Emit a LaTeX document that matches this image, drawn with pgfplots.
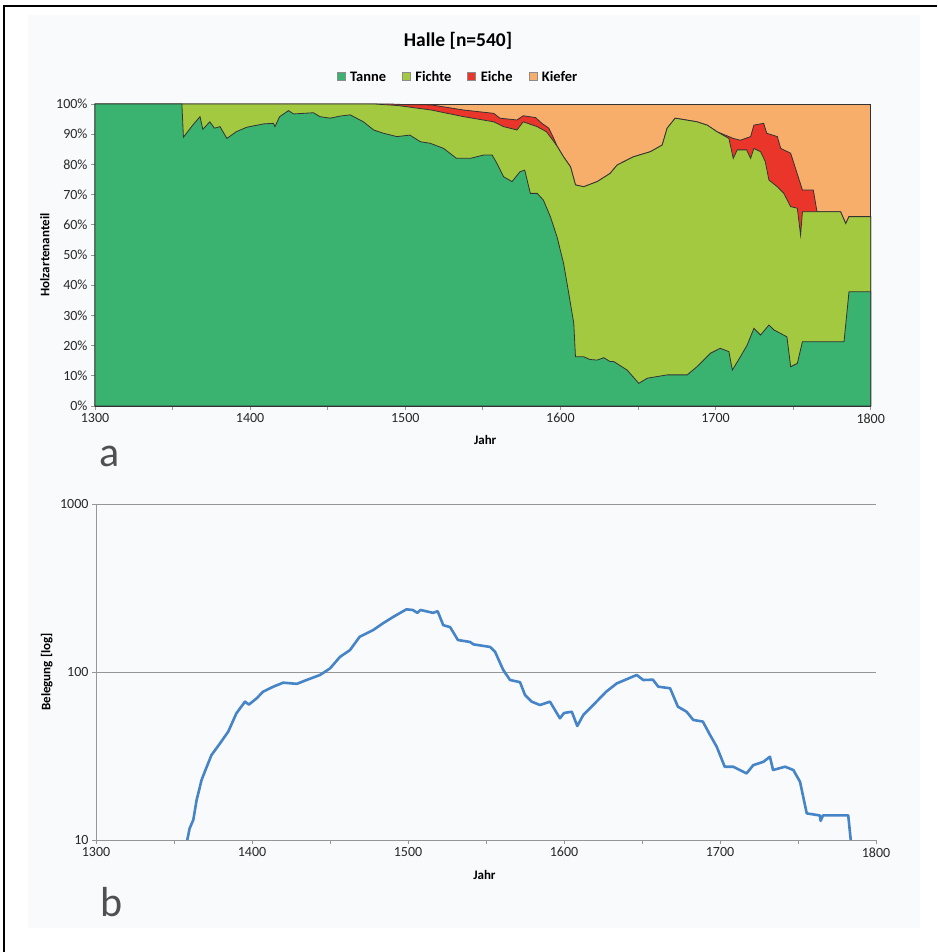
\documentclass[border=0pt]{standalone}
\usepackage{fontspec}
\setmainfont{Carlito}
\usepackage{pgfplots}
\pgfplotsset{compat=1.18}
\definecolor{tanne}{RGB}{58,178,112}
\definecolor{fichte}{RGB}{163,201,64}
\definecolor{eiche}{RGB}{234,54,42}
\definecolor{kiefer}{RGB}{247,174,107}
\definecolor{lineblue}{RGB}{70,132,200}
\definecolor{axgray}{RGB}{150,150,150}
\definecolor{bgc}{RGB}{249,250,252}
\definecolor{txt}{RGB}{40,40,40}

\pgfplotsset{
  common/.style={
    scale only axis,
    axis x line*=bottom, axis y line*=left,
    axis line style={axgray, line width=0.8pt},
    tick style={axgray, line width=0.8pt},
    tick align=outside,
    major tick length=4pt, minor tick length=4pt,
    xmin=1300, xmax=1800,
    xtick={1300,1400,1500,1600,1700,1800},
    xticklabels={1300,1400,1500,1600,1700,1800},
    minor xtick={1350,1450,1550,1650,1750},
    tick label style={font=\fontsize{14}{16}\selectfont, text=txt},
    label style={font=\bfseries\fontsize{13}{15}\selectfont, text=black},
    clip=false,
  }
}

\begin{document}
\begin{tikzpicture}
\path[use as bounding box] (0pt,0pt) rectangle (937pt,952pt);
\fill[bgc] (28pt,24pt) rectangle (920pt,937pt);
\draw[line width=2pt] (3.7pt,0pt) -- (3.7pt,946.3pt) -- (937pt,946.3pt);

% ---------------- panel a ----------------
\begin{axis}[common,
  at={(95pt,546pt)}, anchor=south west,
  width=775.7pt, height=302pt,
  ymin=0, ymax=100,
  ytick={0,10,...,100},
  yticklabels={0\%,10\%,20\%,30\%,40\%,50\%,60\%,70\%,80\%,90\%,100\%},
  xlabel={Jahr},
  xlabel style={at={(axis description cs:0.503,-0.126)}, anchor=base},
  ylabel={Holzartenanteil},
  ylabel style={at={(axis description cs:-0.0645,0.5)}, anchor=center, rotate=0},
  title={Halle [n=540]},
  title style={at={(axis description cs:0.468,1.169)}, anchor=base, font=\bfseries\fontsize{19.5}{22}\selectfont},
  legend style={at={(axis description cs:0.468,1.088)}, anchor=center, draw=none, fill=none,
    legend columns=4, font=\bfseries\fontsize{14.5}{16}\selectfont,
    /tikz/every even column/.append style={column sep=14pt}},
  legend image code/.code={\draw[#1, draw=black!45, line width=0.6pt] (0pt,-3pt) rectangle (8pt,5pt);\path[draw=none, fill=none] (0pt,0pt) rectangle (11pt,0.1pt);},
]
\addlegendimage{fill=tanne}
\addlegendimage{fill=fichte}
\addlegendimage{fill=eiche}
\addlegendimage{fill=kiefer}
\legend{Tanne,Fichte,Eiche,Kiefer}

% Kiefer (rest up to 100 %)
\addplot[forget plot, fill=kiefer, draw=black!80, line width=0.8pt] coordinates {
(1300,100) (1800,100)
} \closedcycle;

% Eiche: cumulative top (Tanne+Fichte+Eiche)
\addplot[forget plot, fill=eiche, draw=black!80, line width=0.8pt] coordinates {
(1300,100) (1470,100) (1490,100) (1500,99.8) (1516.8,99.7) (1537.6,98) (1557,96.9)
(1561,95.3) (1572,94.7) (1576,96.1) (1584,95.5) (1588,93.6) (1592.5,92) (1595.7,88.6)
(1598,85.9) (1602,82.5) (1606.5,79.2) (1609.7,73.2) (1615,72.6) (1623.7,74.3) (1632,77)
(1636.6,79.8) (1647,82.5) (1658,84.2) (1665.6,86.4) (1668.8,92) (1674,95.3) (1688,94.1)
(1694.6,93) (1701,90.8) (1708.6,89.2) (1711.4,88.6) (1716,88) (1722.6,89.2) (1724.7,93)
(1731,93.6) (1733,90.3) (1739.8,89.2) (1742,85.3) (1748.4,83.7) (1756,71.5) (1763,71.5)
(1765.4,64.3) (1780.6,64.3) (1783.9,60.4) (1786,62.7) (1800,62.7)
} \closedcycle;

% Fichte: cumulative top (Tanne+Fichte)
\addplot[forget plot, fill=fichte, draw=black!80, line width=0.8pt] coordinates {
(1300,100) (1480,100) (1495,99.5) (1516.8,98) (1537.6,95.8) (1557,94.1) (1563.4,92.5)
(1572,91.4) (1576,94.1) (1585,92.5) (1591,90.8) (1595.7,87.6) (1598,85.9) (1602,82.5)
(1606.5,79.2) (1609.7,73.2) (1615,72.6) (1623.7,74.3) (1632,77) (1636.6,79.8) (1647,82.5)
(1658,84.2) (1665.6,86.4) (1668.8,92) (1674,95.3) (1688,94.1) (1694.6,93) (1701,90.8)
(1708.6,88.6) (1711.4,82) (1714,84.8) (1720,84.8) (1722.6,82) (1724.7,85.3) (1729,84.2)
(1732,81) (1734.4,74.8) (1739.8,72.6) (1744,70.4) (1748.4,66) (1752.7,65.5) (1754.8,56.6)
(1756,64.3) (1780.6,64.3) (1783.9,60.4) (1786,62.7) (1800,62.7)
} \closedcycle;

% Tanne
\addplot[forget plot, fill=tanne, draw=black!80, line width=0.8pt] coordinates {
(1300,100) (1356,100) (1357,89) (1363,93) (1367.7,95.8) (1369.5,91.6) (1374,94.1)
(1377,92) (1380.6,92.5) (1385,88.6) (1391,90.8) (1397.8,92.3) (1408.6,93.4) (1415,93.6)
(1416,92.5) (1419,95.8) (1424.7,97.8) (1428,96.7) (1440.8,97.1) (1445,95.8) (1451.6,95.3)
(1458,96) (1464.5,96.4) (1473,94.1) (1479.6,91.4) (1486,90.3) (1494.6,89.2) (1503,89.7)
(1509.7,87.5) (1516,87) (1524.7,85.3) (1533,82) (1542,82) (1550.5,83.1) (1556,83.1)
(1559,80.4) (1563.4,75.9) (1568.8,74.3) (1574,77.6) (1577,78.1) (1580.6,70.4) (1585,70.4)
(1589,68.2) (1593.5,62.7) (1597.8,56) (1602,47.3) (1605,38.4) (1608.6,27.4) (1609.7,16.3)
(1615,16.3) (1619,15.4) (1623.7,15.2) (1628,16) (1632,14.7) (1634.4,14.7) (1643,11.9)
(1650.5,7.5) (1656,9.2) (1668.8,10.3) (1681.7,10.3) (1688,13) (1696.8,17.5) (1703,19.1)
(1708.6,18) (1710.8,11.9) (1716,16.3) (1720.4,20.2) (1724.7,25.7) (1729,23.5) (1734.4,26.8)
(1737.6,25.2) (1746,22.9) (1748.4,13) (1752.7,14.1) (1756,21.3) (1764,21.3) (1782.8,21.3)
(1786,37.8) (1800,37.8)
} \closedcycle;
\end{axis}

% ---------------- panel b ----------------
\begin{axis}[common,
  at={(96pt,112pt)}, anchor=south west,
  width=780pt, height=336pt,
  ymode=log, ymin=10, ymax=1000,
  ytick={10,100,1000}, yticklabels={10,100,1000},
  yminorticks=false,
  ymajorgrids, grid style={axgray, line width=0.8pt},
  xlabel={Jahr},
  xlabel style={at={(axis description cs:0.498,-0.119)}, anchor=base},
  ylabel={Belegung [log]},
  ylabel style={at={(axis description cs:-0.0632,0.5)}, anchor=center, rotate=0},
]
\addplot[lineblue, line width=2.6pt, line join=round] coordinates {
(1358.5,10) (1360,11.7) (1362.4,13.2) (1364.5,17.3) (1367.7,22.8) (1371,27.3) (1374,32)
(1379.5,37.6) (1384.8,44.2) (1390,56.8) (1395.5,66.6) (1398,64) (1403,69.7) (1407,76.3)
(1413.7,81.8) (1420,86.4) (1428.7,85) (1435,89.6) (1443.6,96) (1450,105) (1456.4,123)
(1462.8,135) (1469,162) (1477.8,178) (1484,195) (1490.6,213) (1499,236) (1503,234)
(1506,225) (1508,234) (1516,225) (1519,230) (1522.6,190) (1527,185) (1532,155)
(1539.7,151) (1542,146) (1552.6,141) (1555.8,132) (1561,103) (1565.4,89.6) (1571.8,87)
(1575,73) (1579.3,66.6) (1584.6,63.6) (1591,66.6) (1597.4,53) (1600,57) (1605,58)
(1608.5,47.7) (1612.4,55.5) (1618.8,63.7) (1627,76.3) (1633.8,85.5) (1639,89.6)
(1646.6,96) (1650.8,89.6) (1657,90) (1660.4,81.8) (1668,80) (1673,62.2) (1678.6,58)
(1682.9,51.8) (1689,50.7) (1693.6,42.2) (1697.9,35.9) (1703,27.3) (1708.5,27.3)
(1717,24.9) (1721.3,27.9) (1727.8,29.2) (1732,31.3) (1734,26.1) (1741.7,27.3) (1747,26.1)
(1751.3,22.2) (1755.6,14.4) (1764,14) (1764.5,13) (1766,14) (1782.2,14) (1783.8,10)
};
\end{axis}

\node[anchor=base west, text={rgb,255:red,80;green,80;blue,80}, font=\fontsize{42}{44}\selectfont, inner sep=0pt] at (99pt,485.3pt) {a};
\node[anchor=base west, text={rgb,255:red,80;green,80;blue,80}, font=\fontsize{42}{44}\selectfont, inner sep=0pt] at (100pt,35.3pt) {b};
\end{tikzpicture}
\end{document}
